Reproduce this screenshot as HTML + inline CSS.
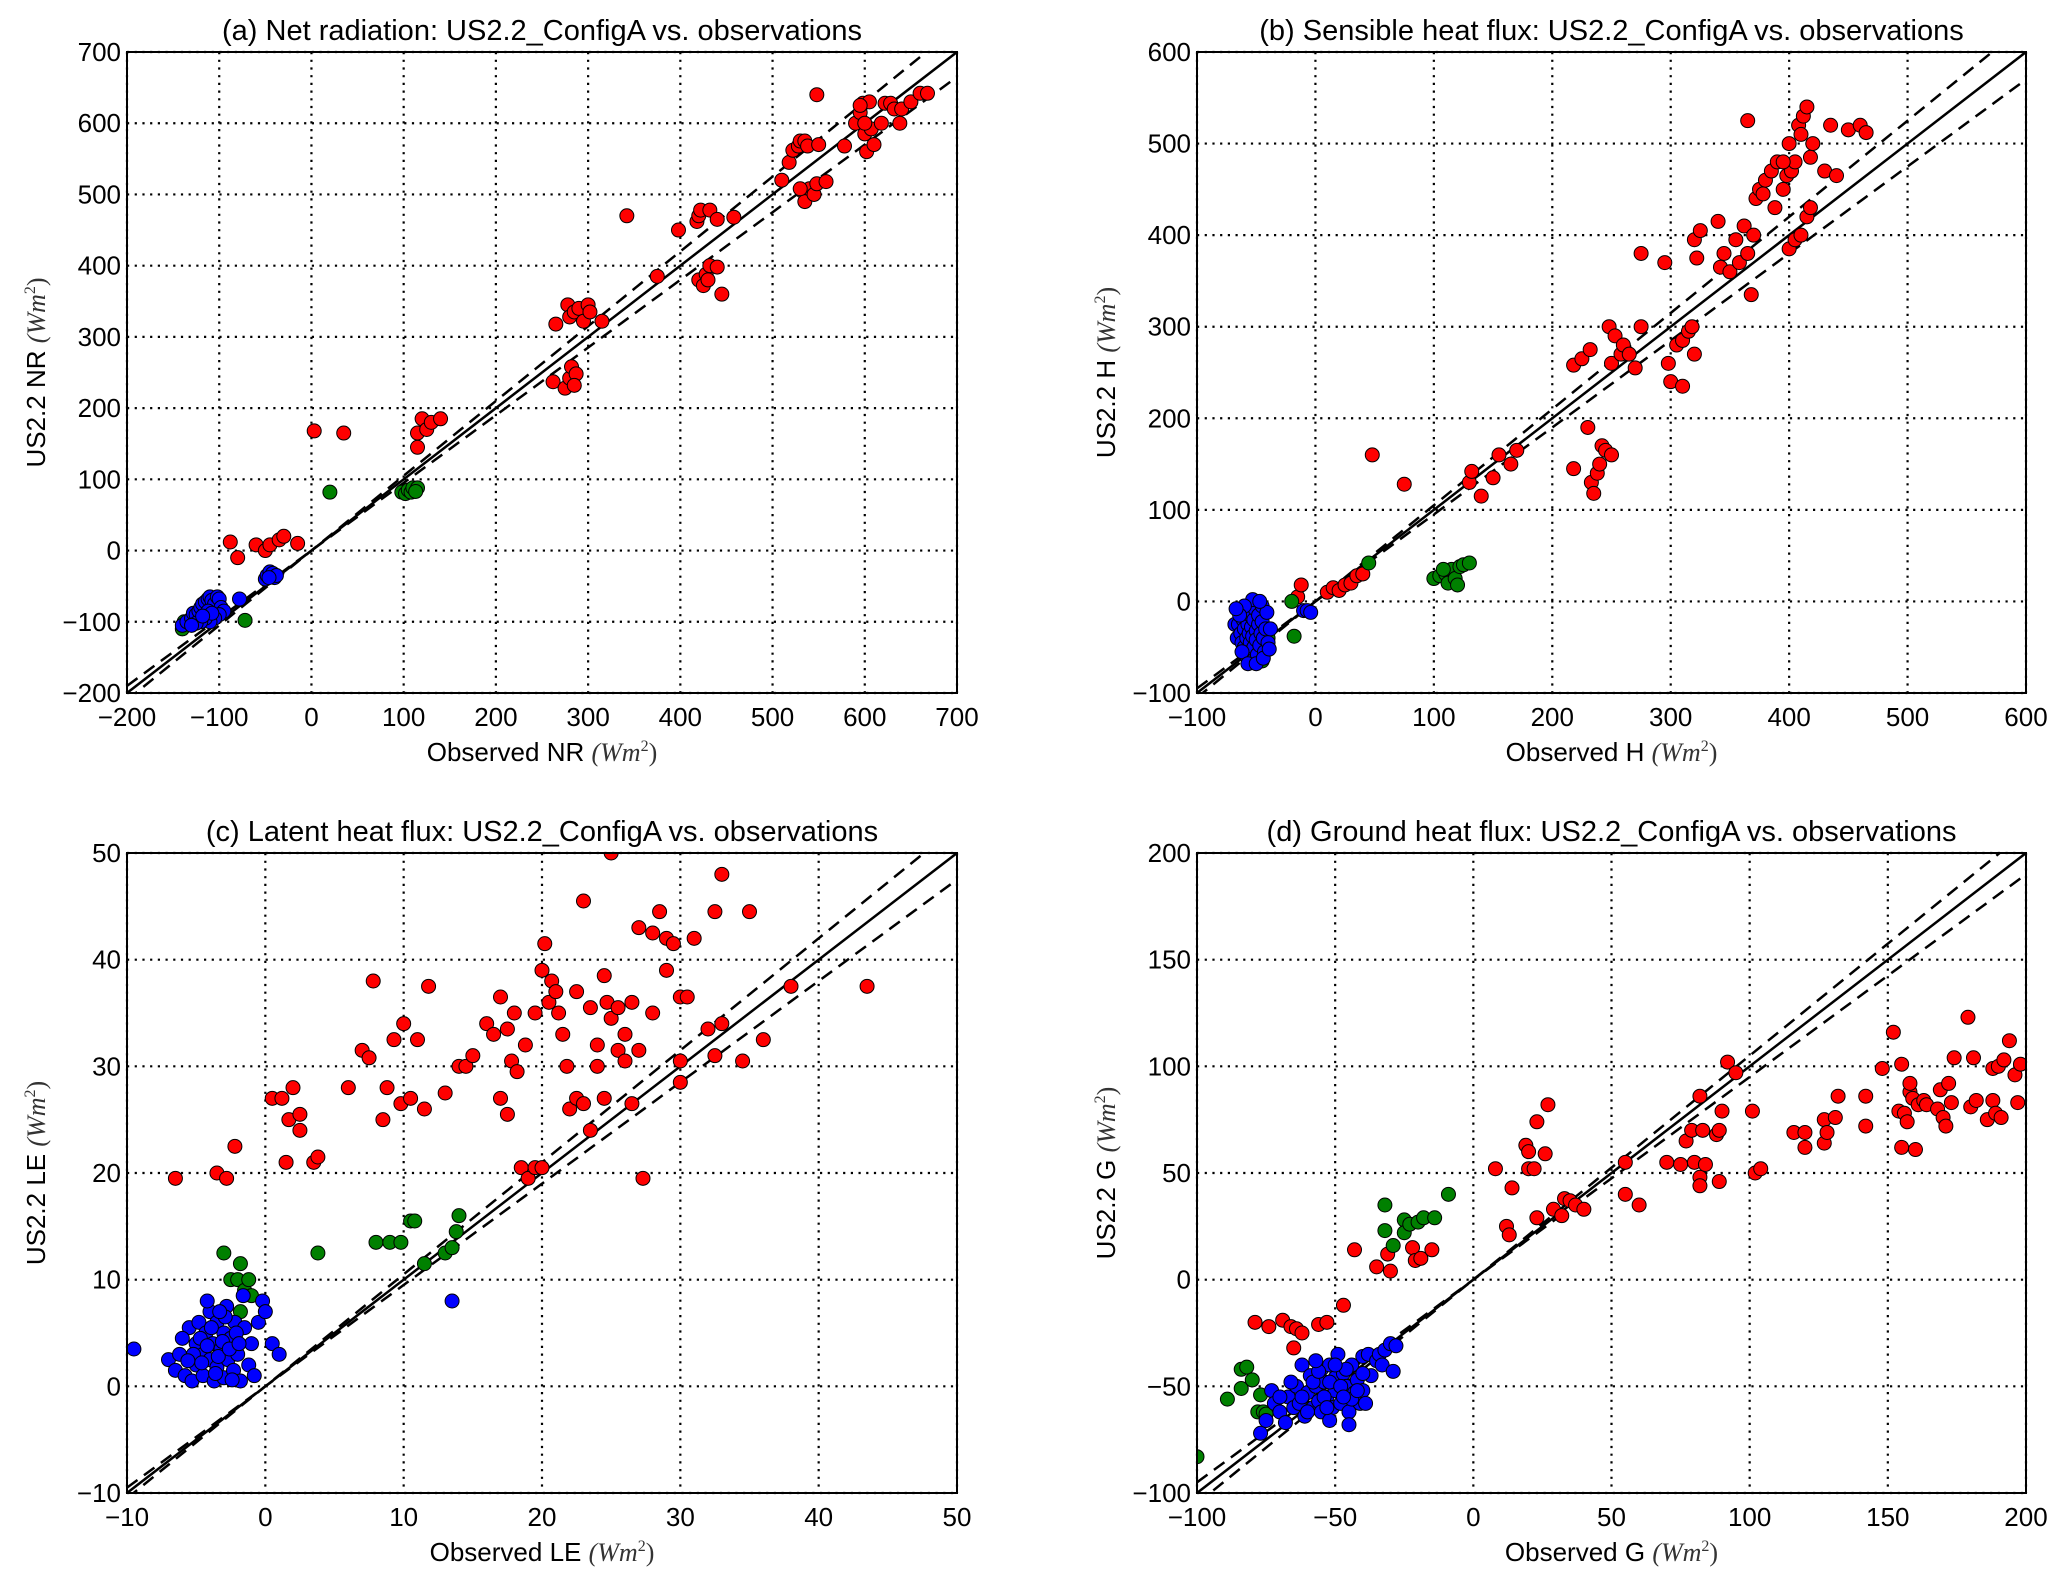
<!DOCTYPE html>
<html><head><meta charset="utf-8"><style>
body{margin:0;background:#fff;}
svg{display:block;font-family:"Liberation Sans",sans-serif;}
</style></head><body>
<svg id="fig" width="2067" height="1585" viewBox="0 0 2067 1585" xmlns="http://www.w3.org/2000/svg"></svg>
<script>
// ---------- data ----------
const aTicks=[-200,-100,0,100,200,300,400,500,600,700];
const bTicks=[-100,0,100,200,300,400,500,600];
const cTicks=[-10,0,10,20,30,40,50];
const dTicks=[-100,-50,0,50,100,150,200];

const aRed=[[-88,12],[-80,-10],[-60,8],[-50,0],[-45,8],[-35,15],[-30,20],[-15,10],[3,168],[35,165],[115,145],[115,165],[120,185],[125,170],[130,180],[140,185],
[265,318],[278,345],[280,328],[285,335],[290,340],[295,322],[300,345],[302,335],[315,322],[262,237],[275,228],[280,242],[282,258],[287,248],[285,232],
[342,470],[375,385],[398,450],[418,462],[420,470],[422,478],[432,478],[440,465],[458,468],[420,380],[425,372],[428,388],[432,400],[440,398],[445,360],[430,380],
[510,520],[518,545],[522,562],[528,568],[530,575],[535,575],[538,568],[532,505],[535,490],[540,508],[545,500],[548,515],[558,518],[530,508],[550,570],[548,640],[578,568],[590,600],[595,615],[598,628],[600,585],[602,560],[605,630],[607,592],[610,570],[618,600],[622,628],[628,628],[632,620],[638,600],[640,620],[650,630],[660,642],[668,642],[600,600],[595,625]];
const aBlue=[[-140,-105],[-135,-100],[-130,-95],[-128,-88],[-125,-90],[-122,-85],[-120,-80],[-118,-75],[-115,-72],[-112,-68],[-110,-65],[-108,-70],[-105,-75],[-102,-65],[-100,-68],[-98,-80],[-95,-85],[-100,-90],[-105,-95],[-110,-100],[-115,-95],[-120,-100],[-125,-102],[-130,-105],[-112,-85],[-108,-88],[-118,-92],[-78,-68],[-50,-40],[-48,-35],[-45,-30],[-42,-32],[-40,-38],[-38,-35],[-46,-38]];
const aGreen=[[-140,-110],[-138,-100],[-72,-98],[20,82],[98,82],[102,80],[105,85],[108,82],[110,88],[115,88],[113,83]];

const bRed=[[-15,5],[-12,18],[10,10],[15,15],[20,12],[25,18],[30,20],[35,28],[40,30],[48,160],[75,128],[130,130],[132,142],[140,115],[150,135],[155,160],[165,150],[170,165],[218,145],[218,258],[225,265],[230,190],[232,275],[233,130],[235,118],[238,140],[240,150],[242,170],[245,165],[250,160],[248,300],[250,260],[253,290],[258,270],[260,280],[265,270],[270,255],[275,300],[275,380],[295,370],[298,260],[300,240],[310,235],[305,280],[310,285],[315,295],[318,300],[320,270],[322,375],[320,395],[325,405],[340,415],[342,365],[345,380],[350,360],[355,395],[358,370],[362,410],[365,380],[365,525],[368,335],[370,400],[372,440],[375,450],[378,445],[380,460],[385,470],[388,430],[390,480],[395,450],[398,465],[400,500],[402,470],[405,480],[408,520],[410,510],[412,530],[415,540],[418,485],[420,500],[400,385],[405,395],[410,400],[415,420],[418,430],[430,470],[435,520],[450,515],[460,520],[465,512],[440,465],[395,480]];
const bBlue=[[-68,-25],[-66,-40],[-65,-25],[-63,-35],[-62,-45],[-61,-20],[-60,-30],[-60,-50],[-59,-10],[-58,-40],[-58,-60],[-57,-25],[-56,-5],[-56,-35],[-55,-15],[-55,-45],[-55,-55],[-54,-28],[-53,-38],[-53,-65],[-52,-20],[-52,-50],[-51,-8],[-50,-32],[-50,-42],[-49,-58],[-48,-25],[-48,-15],[-47,-48],[-46,-35],[-45,-22],[-45,-5],[-44,-40],[-43,-55],[-42,-30],[-41,-12],[-40,-45],[-62,-55],[-57,-68],[-50,-68],[-53,2],[-47,0],[-10,-10],[-7,-10],[-4,-12],[-60,-5],[-64,-15],[-44,-62],[-38,-30],[-39,-52],[-67,-8]];
const bGreen=[[-55,-60],[-50,-50],[-45,-45],[-40,-40],[-18,-38],[-20,0],[-45,-65],[45,42],[100,25],[105,28],[110,30],[112,20],[115,35],[118,25],[120,18],[122,38],[125,40],[130,42],[108,35]];

const cRed=[[-6.5,19.5],[-3.5,20],[-2.8,19.5],[-2.2,22.5],[0.5,27],[1.2,27],[1.5,21],[1.7,25],[2,28],[2.5,24],[2.5,25.5],[3.5,21],[3.8,21.5],[6,28],[7,31.5],[7.5,30.8],[7.8,38],[8.5,25],[8.8,28],[9.3,32.5],[9.8,26.5],[10,34],[10.5,27],[11,32.5],[11.5,26],[11.8,37.5],[13,27.5],[14,30],[14.5,30],[15,31],[16,34],[16.5,33],[17,36.5],[17,27],[17.5,25.5],[17.5,33.5],[17.8,30.5],[18,35],[18.2,29.5],[18.5,20.5],[18.8,32],[19,19.5],[19.5,20.5],[20,20.5],[19.5,35],[20,39],[20.2,41.5],[20.5,36],[20.7,38],[21,37],[21.2,35],[21.5,33],[21.8,30],[22,26],[22.5,37],[22.5,27],[23,45.5],[23,26.5],[23.5,35.5],[23.5,24],[24,30],[24,32],[24.5,38.5],[24.5,27],[24.7,36],[25,50],[25,34.5],[25.5,31.5],[25.5,35.5],[26,30.5],[26,33],[26.5,36],[26.5,26.5],[27,31.5],[27,43],[27.3,19.5],[28,42.5],[28,35],[28.5,44.5],[29,42],[29,39],[29.5,41.5],[30,36.5],[30,30.5],[30,28.5],[30.5,36.5],[31,42],[32,33.5],[32.5,31],[32.5,44.5],[33,48],[33,34],[34.5,30.5],[35,44.5],[36,32.5],[38,37.5],[43.5,37.5]];
const cBlue=[[-9.5,3.5],[-7,2.5],[-6.5,1.5],[-6.2,3],[-5.8,1],[-5.5,5.5],[-5.3,0.5],[-5,4],[-5,2],[-4.8,6],[-4.5,3],[-4.5,1],[-4.3,5],[-4,7],[-4,2.5],[-3.8,4],[-3.7,0.5],[-3.5,6],[-3.5,1.8],[-3.2,3.5],[-3,5],[-3,0.8],[-2.8,7.5],[-2.7,2.5],[-2.5,4.5],[-2.3,1.5],[-2.2,6],[-2,3],[-1.8,0.5],[-1.5,5.5],[-1.2,2],[-1,4],[-0.8,1],[-0.5,6],[-0.2,8],[0,7],[0.5,4],[1,3],[13.5,8],[-6,4.5],[-4.2,8],[-1.6,8.5],
[-5.2,3],[-4.7,4.5],[-4.2,3.8],[-3.9,5.5],[-3.4,2.8],[-3.1,4.2],[-2.9,6.5],[-2.6,3.5],[-2.1,5],[-1.9,4],[-4.6,2.2],[-3.6,1.2],[-2.4,0.6],[-5.6,2.4],[-3.3,7]];
const cGreen=[[-3,12.5],[-2.5,10],[-2,10],[-1.8,11.5],[-1.5,9],[-1.2,10],[-1,8.5],[-1.8,7],[3.8,12.5],[8,13.5],[9,13.5],[9.8,13.5],[10.5,15.5],[10.8,15.5],[11.5,11.5],[13,12.5],[13.5,13],[13.8,14.5],[14,16]];

const dRed=[[-79,-20],[-74,-22],[-69,-19],[-66,-22],[-65,-32],[-64,-23],[-62,-25],[-56,-21],[-53,-20],[-47,-12],[-43,14],[-35,6],[-31,12],[-30,4],[-22,15],[-21,9],[-19,10],[-15,14],[8,52],[12,25],[13,21],[14,43],[19,63],[20,52],[20,60],[22,52],[23,74],[23,29],[26,59],[27,82],[29,33],[32,30],[33,38],[35,37],[37,35],[40,33],[55,55],[55,40],[60,35],[70,55],[75,54],[77,65],[79,70],[80,55],[82,48],[82,44],[82,86],[83,70],[84,54],[88,68],[89,46],[89,70],[90,79],[92,102],[95,97],[101,79],[102,50],[104,52],[116,69],[120,62],[120,69],[127,64],[127,75],[128,69],[131,76],[132,86],[142,86],[142,72],[148,99],[152,116],[154,79],[155,62],[155,101],[156,78],[157,74],[158,88],[158,92],[159,85],[160,61],[161,82],[163,84],[164,82],[168,80],[169,89],[170,76],[171,72],[172,92],[173,83],[174,104],[179,123],[180,81],[181,104],[182,84],[186,75],[188,84],[188,99],[189,78],[190,100],[191,76],[192,103],[194,112],[196,96],[197,83],[198,101]];
const dBlue=[[-77,-72],[-75,-66],[-73,-52],[-72,-58],[-70,-62],[-68,-67],[-67,-55],[-65,-60],[-64,-50],[-63,-58],[-62,-40],[-61,-64],[-60,-53],[-59,-45],[-58,-60],[-57,-50],[-56,-57],[-55,-42],[-55,-62],[-54,-48],[-53,-55],[-52,-40],[-51,-60],[-50,-46],[-50,-52],[-49,-35],[-48,-58],[-47,-44],[-46,-50],[-45,-62],[-45,-68],[-44,-40],[-43,-53],[-42,-47],[-41,-58],[-40,-36],[-40,-52],[-38,-35],[-37,-45],[-35,-38],[-34,-35],[-33,-40],[-32,-33],[-30,-30],[-29,-43],[-28,-31],[-60,-62],[-52,-66],[-66,-48],[-70,-55],
[-58,-48],[-56,-43],[-54,-55],[-52,-48],[-48,-50],[-46,-42],[-44,-56],[-42,-52],[-40,-44],[-39,-58],[-62,-55],[-53,-60],[-47,-55],[-57,-38],[-50,-40]];
const dGreen=[[-100,-83],[-89,-56],[-84,-42],[-84,-51],[-82,-41],[-80,-47],[-78,-62],[-77,-54],[-76,-62],[-75,-63],[-32,35],[-32,23],[-29,16],[-25,28],[-25,22],[-23,26],[-20,27],[-18,29],[-14,29],[-9,40]];

// ---------- drawing ----------
const NS="http://www.w3.org/2000/svg";
const svg=document.getElementById('fig');
function mk(tag,attrs,parent){const e=document.createElementNS(NS,tag);for(const k in attrs)e.setAttribute(k,attrs[k]);(parent||svg).appendChild(e);return e;}

function panel(id,L,T,W,H,ticks,title,xlab,ylab,red,green,blue){
  const min=ticks[0],max=ticks[ticks.length-1];
  const sx=v=>L+(v-min)/(max-min)*W;
  const sy=v=>T+H-(v-min)/(max-min)*H;
  const g=mk('g',{});
  
  
  const clipId='clip-'+id;
  const cp=mk('clipPath',{id:clipId},g);mk('rect',{x:L,y:T,width:W,height:H},cp);
  ticks.forEach(t=>{
    const gx=mk('line',{x1:sx(t),x2:sx(t),y1:T,y2:T+H,stroke:'#000','stroke-width':2.2,'stroke-dasharray':'2.2,5.5'},g);
    
    
    const gy=mk('line',{x1:L,x2:L+W,y1:sy(t),y2:sy(t),stroke:'#000','stroke-width':2.2,'stroke-dasharray':'2.2,5.5'},g);
    
    
    const tx=mk('text',{x:sx(t),y:T+H+33,'font-size':26,'text-anchor':'middle',fill:'#000'},g);
    tx.textContent=(t<0?'\u2212'+(-t):''+t);
    
    
    const ty=mk('text',{x:L-6,y:sy(t)+9,'font-size':26,'text-anchor':'end',fill:'#000'},g);
    ty.textContent=(t<0?'\u2212'+(-t):''+t);
    
    
  });
  const lg=mk('g',{'clip-path':'url(#'+clipId+')'},g);
  [[1,'none'],[1.05,'13,8'],[0.95,'13,8']].forEach(([k,d])=>{
    const ln=mk('line',{x1:sx(min),y1:sy(min*k),x2:sx(max),y2:sy(max*k),stroke:'#000','stroke-width':2.5,'stroke-dasharray':d},lg);
    
    
  });
  const pg=mk('g',{'clip-path':'url(#'+clipId+')'},g);
  [[red,'#ff0000','red-point'],[green,'#008000','green-point'],[blue,'#0000ff','blue-point']].forEach(([arr,col,nm])=>{
    arr.forEach(p=>{
      const c=mk('circle',{cx:sx(p[0]),cy:sy(p[1]),r:7,fill:col,stroke:'#000','stroke-width':1},pg);
      
      
    });
  });
  const fr=mk('rect',{x:L,y:T,width:W,height:H,fill:'none',stroke:'#000','stroke-width':2},g);
  
  
  const tt=mk('text',{x:L+W/2,y:T-12,'font-size':29,'text-anchor':'middle',fill:'#000'},g);
  tt.textContent=title;
  
  
  const unit=' <tspan font-family="Liberation Serif" font-style="italic" fill="#333">(Wm</tspan><tspan font-family="Liberation Serif" font-size="16" dy="-10" fill="#333">2</tspan><tspan font-family="Liberation Serif" dy="10" fill="#333">)</tspan>';
  const xl=mk('text',{x:L+W/2,y:T+H+68,'font-size':26,'text-anchor':'middle',fill:'#000'},g);
  xl.innerHTML='Observed '+xlab+unit;
  
  
  const yx=L-82,yy=T+H/2;
  const yl=mk('text',{x:yx,y:yy,'font-size':26,'text-anchor':'middle',fill:'#000',transform:'rotate(-90 '+yx+' '+yy+')'},g);
  yl.innerHTML='US2.2 '+ylab+unit;
  
  
}

panel('a',127,52,830,641,aTicks,'(a) Net radiation: US2.2_ConfigA vs. observations','NR','NR',aRed,aGreen,aBlue);
panel('b',1197,52,829,641,bTicks,'(b) Sensible heat flux: US2.2_ConfigA vs. observations','H','H',bRed,bGreen,bBlue);
panel('c',127,853,830,640,cTicks,'(c) Latent heat flux: US2.2_ConfigA vs. observations','LE','LE',cRed,cGreen,cBlue);
panel('d',1197,853,829,640,dTicks,'(d) Ground heat flux: US2.2_ConfigA vs. observations','G','G',dRed,dGreen,dBlue);
</script>
</body></html>
